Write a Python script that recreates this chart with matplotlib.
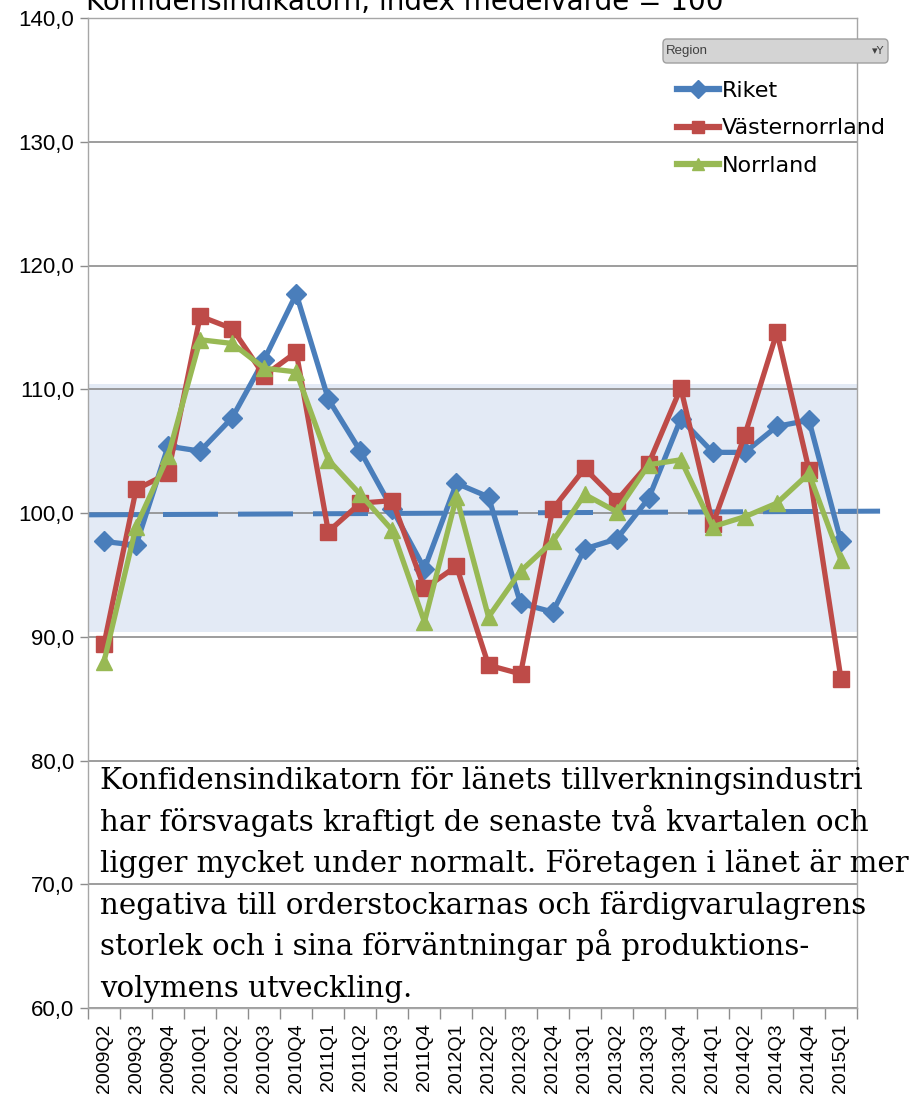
import numpy as np
import matplotlib
matplotlib.use("Agg")
import matplotlib.pyplot as plt
from matplotlib.patches import FancyBboxPatch

# Quarters on the x axis
quarters = ["2009Q2", "2009Q3", "2009Q4", "2010Q1", "2010Q2", "2010Q3", "2010Q4",
            "2011Q1", "2011Q2", "2011Q3", "2011Q4", "2012Q1", "2012Q2", "2012Q3",
            "2012Q4", "2013Q1", "2013Q2", "2013Q3", "2013Q4", "2014Q1", "2014Q2",
            "2014Q3", "2014Q4", "2015Q1"]

# Confidence indicator, index mean = 100
riket = [97.7, 97.4, 105.4, 105.0, 107.7, 112.4, 117.7, 109.2, 105.0, 100.3, 95.5, 102.4,
         101.3, 92.7, 92.0, 97.1, 97.9, 101.2, 107.6, 104.9, 104.9, 107.0, 107.5, 97.7]
vasternorrland = [89.4, 101.9, 103.2, 115.9, 114.9, 111.1, 113.0, 98.5, 100.8, 101.0, 93.9, 95.7,
                  87.7, 87.0, 100.3, 103.6, 101.0, 104.0, 110.1, 99.1, 106.3, 114.6, 103.5, 86.6]
norrland = [88.0, 98.9, 104.6, 114.0, 113.7, 111.7, 111.4, 104.3, 101.5, 98.6, 91.2, 101.3,
            91.6, 95.3, 97.7, 101.5, 100.1, 103.9, 104.3, 98.9, 99.7, 100.8, 103.2, 96.2]

# linear trend of the normal level, and the "normal" band
trend_start, trend_end = 99.85, 100.15
band_low, band_high = 90.4, 110.4

ymin, ymax = 60, 140

title = "Konfidensindikatorn, index medelvärde = 100"
comment = ["Konfidensindikatorn för länets tillverkningsindustri",
           "har försvagats kraftigt de senaste två kvartalen och",
           "ligger mycket under normalt. Företagen i länet är mer",
           "negativa till orderstockarnas och färdigvarulagrens",
           "storlek och i sina förväntningar på produktions-",
           "volymens utveckling."]

W, H = 924, 1097
fig = plt.figure(figsize=(W / 100, H / 100), dpi=100)
ax = fig.add_axes([88 / W, 1 - 1008 / H, (857 - 88) / W, (1008 - 18) / H])

x = np.arange(len(quarters))

ax.axhspan(band_low, band_high, color="#E3EAF5", zorder=0, lw=0)
for v in range(ymin, ymax + 1, 10):
    ax.axhline(v, color="#8C8C8C", lw=1.2, zorder=1)

# dashed trend line reaches a bit past the plot on the right
ax.plot([-0.5, len(quarters) - 0.5 + 0.72], [trend_start, trend_end], color="#4A7EBB",
        lw=3.6, dashes=(11, 4), zorder=2, clip_on=False, solid_capstyle="butt")

series = [
    ("Riket", riket, "#4A7EBB", "D", 10),
    ("Västernorrland", vasternorrland, "#BE4B48", "s", 12),
    ("Norrland", norrland, "#98B954", "^", 12),
]
for i, (name, vals, col, mk, ms) in enumerate(series):
    ax.plot(x, vals, color=col, lw=3.8, marker=mk, markersize=ms, label=name,
            zorder=3 + i, solid_joinstyle="round")

ax.set_xlim(-0.5, len(quarters) - 0.5)
ax.set_ylim(ymin, ymax)

ax.set_yticks(range(ymin, ymax + 1, 10))
ax.set_yticklabels([f"{v:.1f}".replace(".", ",") for v in range(ymin, ymax + 1, 10)],
                   family="Liberation Sans", fontsize=16)
ax.tick_params(axis="y", length=6, width=1, color="#8C8C8C", pad=4)

ax.set_xticks(x)
ax.set_xticklabels(quarters, rotation=90, family="Liberation Sans", fontsize=14)
ax.set_xticks(np.arange(len(quarters) + 1) - 0.5, minor=True)
ax.tick_params(axis="x", which="major", length=0, pad=11)
ax.tick_params(axis="x", which="minor", length=8, width=1, color="#8C8C8C")

for s in ax.spines.values():
    s.set_color("#A6A6A6")
    s.set_linewidth(1)

# legend with the pivot "Region" button above it
leg = ax.legend(loc="upper left", bbox_to_anchor=(666 / W, 1 - 70 / H),
                bbox_transform=fig.transFigure, frameon=False, borderpad=0,
                handlelength=1.9, handletextpad=0.1, labelspacing=0.78,
                prop={"family": "DejaVu Sans", "size": 16})
for h in leg.legend_handles:
    h.set_markersize(9)
    h.set_linewidth(4.5)

btn = FancyBboxPatch((663 / W, 1 - 63 / H), (888 - 663) / W, 24 / H,
                     boxstyle="round,pad=0,rounding_size=0.004", transform=fig.transFigure,
                     facecolor="#D4D4D4", edgecolor="#A0A0A0", lw=1)
fig.patches.append(btn)
fig.text(666 / W, 1 - 51 / H, "Region", fontsize=9.5, color="#404040",
         family="Liberation Sans", va="center")
fig.text(884 / W, 1 - 51 / H, "▾Y", fontsize=8, color="#404040", ha="right", va="center",
         family="DejaVu Sans")

# title, cut off at the top edge as in the source
fig.text(86 / W, 1 - 10 / H, title, fontsize=20, family="DejaVu Sans", va="baseline")

# comment text inside the plot
for k, line in enumerate(comment):
    fig.text(100 / W, 1 - (789 + k * 41.6) / H, line, fontsize=21.1,
             family="DejaVu Serif", va="baseline", zorder=10)

fig.savefig("out.png", dpi=100)
